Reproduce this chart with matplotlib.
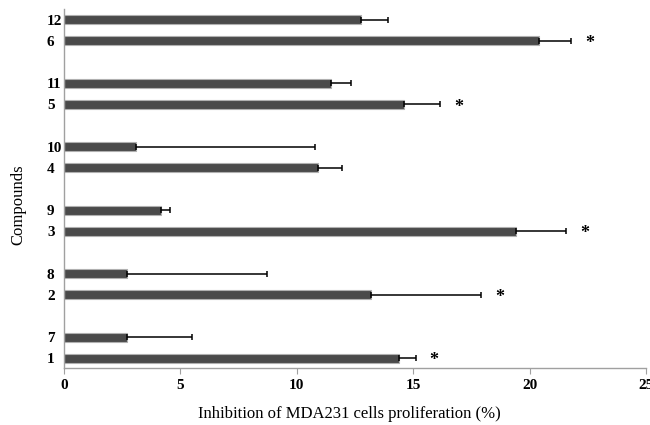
import numpy as np
import matplotlib
matplotlib.use('Agg')
import matplotlib.pyplot as plt

plt.rcParams.update({
    'font.family': 'serif',
    'font.serif': ['Liberation Serif', 'DejaVu Serif'],
})

# compounds 1-6 (lower bar of each pair) and 7-12 (upper bar)
labels_a = ['1', '2', '3', '4', '5', '6']
values_a = [14.4, 13.2, 19.4, 10.9, 14.6, 20.4]
errors_a = [0.7, 4.7, 2.15, 1.05, 1.55, 1.4]
signif_a = [True, True, True, False, True, True]

labels_b = ['7', '8', '9', '10', '11', '12']
values_b = [2.7, 2.7, 4.15, 3.1, 11.45, 12.75]
errors_b = [2.8, 6.0, 0.42, 7.7, 0.87, 1.15]

groups = np.arange(len(labels_a))
pos_a = groups
pos_b = groups + 0.33
bar_h = 0.14
bar_color = '#4a4a4a'
edge_color = '#b0b0b0'

fig = plt.figure(figsize=(6.5, 4.25), dpi=100)
ax = fig.add_axes([0.0985, 0.134, 0.8953, 0.845])

for pos, vals, errs in [(pos_a, values_a, errors_a), (pos_b, values_b, errors_b)]:
    ax.barh(pos, vals, height=bar_h, color=bar_color, edgecolor=edge_color,
            linewidth=0.8, zorder=2)
    ax.errorbar(vals, pos, xerr=[np.zeros(len(vals)), errs], fmt='none',
                ecolor='black', elinewidth=1.1, capsize=2.2, capthick=1.1, zorder=3)

# significance marks
for y, v, e, s in zip(pos_a, values_a, errors_a, signif_a):
    if s:
        ax.text(v + e + 0.8, y - 0.045, '*', ha='center', va='center',
                fontsize=13, fontweight='bold', color='black')

yticks = np.concatenate([pos_a, pos_b])
ylabels = labels_a + labels_b
ax.set_yticks(yticks)
ax.set_yticklabels(ylabels, fontsize=11, fontweight='bold')
for lab in ax.get_yticklabels():
    lab.set_ha('left')
ax.tick_params(axis='y', length=0, pad=12.3)

ax.set_xlim(0, 25)
ax.set_xticks([0, 5, 10, 15, 20, 25])
ax.set_xticklabels(['0', '5', '10', '15', '20', '25'], fontsize=11, fontweight='bold')
ax.tick_params(axis='x', direction='out', length=4, width=0.8, color='#a0a0a0', pad=4)
ax.set_ylim(-0.157, 5.50)

for side in ['top', 'right']:
    ax.spines[side].set_visible(False)
for side in ['left', 'bottom']:
    ax.spines[side].set_color('#a0a0a0')
    ax.spines[side].set_linewidth(1.0)

ax.set_xlabel('Inhibition of MDA231 cells proliferation (%)', fontsize=12)
ax.xaxis.set_label_coords(0.49, -0.105)
ax.set_ylabel('Compounds', fontsize=12)
ax.yaxis.set_label_coords(-0.065, 0.455)

fig.savefig('out.png', dpi=100)
